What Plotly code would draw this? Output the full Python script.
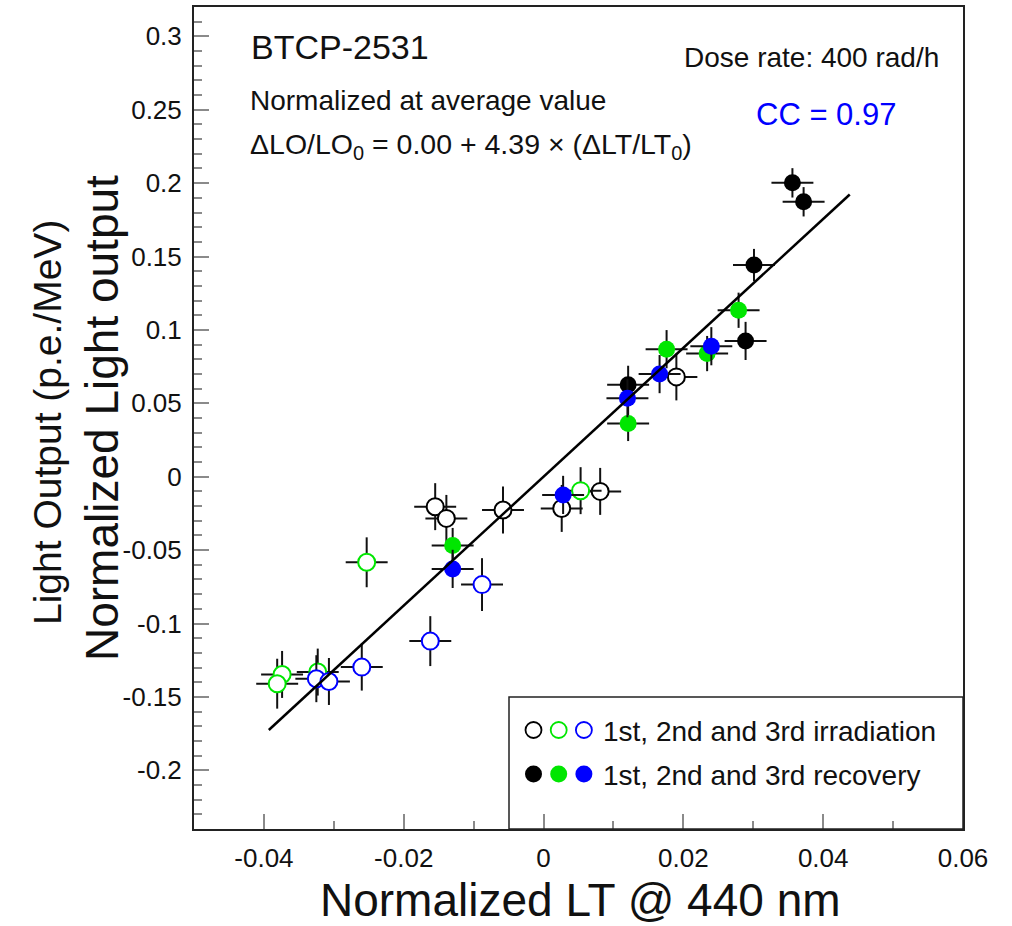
import plotly.graph_objects as go

# ---- measurements: normalized LT change vs normalized light-output change ----
# 1st, 2nd, 3rd irradiation (open markers)
irr1_x = [-0.0155, -0.0139, -0.0058, 0.0026, 0.0081, 0.0190]
irr1_y = [-0.0204, -0.0284, -0.0227, -0.0216, -0.0100, 0.0680]
irr1_ex = [0.003, 0.003, 0.003, 0.003, 0.003, 0.003]
irr1_ey = [0.016, 0.016, 0.016, 0.016, 0.016, 0.016]

irr2_x = [0.0053, -0.0253, -0.0374, -0.0381, -0.0323]
irr2_y = [-0.0095, -0.0583, -0.1347, -0.1410, -0.1331]
irr2_ex = [0.003, 0.003, 0.003, 0.003, 0.003]
irr2_ey = [0.016, 0.017, 0.016, 0.017, 0.016]

irr3_x = [-0.0088, -0.0162, -0.0260, -0.0325, -0.0307]
irr3_y = [-0.0735, -0.1120, -0.1297, -0.1376, -0.1395]
irr3_ex = [0.003, 0.003, 0.003, 0.003, 0.003]
irr3_ey = [0.018, 0.017, 0.016, 0.016, 0.016]

# 1st, 2nd, 3rd recovery (filled markers)
rec1_x = [0.0356, 0.0372, 0.0301, 0.0289, 0.0121]
rec1_y = [0.2002, 0.1873, 0.1442, 0.0925, 0.0626]
rec1_ex = [0.003, 0.003, 0.003, 0.003, 0.003]
rec1_ey = [0.010, 0.010, 0.011, 0.013, 0.013]

rec2_x = [0.0279, 0.0234, 0.0176, 0.0121, -0.0130]
rec2_y = [0.1134, 0.0839, 0.0869, 0.0363, -0.0469]
rec2_ex = [0.003, 0.003, 0.003, 0.003, 0.003]
rec2_ey = [0.012, 0.012, 0.013, 0.012, 0.012]

rec3_x = [0.0240, 0.0166, 0.0120, 0.0028, -0.0130]
rec3_y = [0.0889, 0.0699, 0.0535, -0.0124, -0.0628]
rec3_ex = [0.003, 0.003, 0.003, 0.003, 0.003]
rec3_ey = [0.013, 0.013, 0.013, 0.013, 0.013]

# linear fit: dLO/LO0 = a + b * (dLT/LT0)
fit_a = 0.00
fit_b = 4.39
fit_x = [-0.0393, 0.0438]
corr_coeff = 0.97

# axes
x_range = [-0.05, 0.06]
y_range = [-0.24, 0.32]
x_tickvals = [-0.04, -0.02, 0, 0.02, 0.04, 0.06]
x_ticktext = ["-0.04", "-0.02", "0", "0.02", "0.04", "0.06"]
y_tickvals = [-0.2, -0.15, -0.1, -0.05, 0, 0.05, 0.1, 0.15, 0.2, 0.25, 0.3]
y_ticktext = ["-0.2", "-0.15", "-0.1", "-0.05", "0", "0.05", "0.1", "0.15", "0.2", "0.25", "0.3"]

FONT = "Liberation Sans, Arial, Helvetica, sans-serif"
BLACK = "#000000"
GREEN = "#00e600"
BLUE = "#0000ff"

# plot frame in page pixels
W, H = 1012, 926
L, R, T, B = 194, 963, 7, 829


def px(xp):
    return (xp - L) / (R - L)


def py(yp):
    return (B - yp) / (B - T)


fig = go.Figure()


def add_series(xs, ys, exs, eys, color, filled):
    marker = dict(size=17, color=color, line=dict(width=0)) if filled else \
        dict(size=17, color="white", line=dict(width=2, color=color))
    fig.add_trace(go.Scatter(
        x=xs, y=ys, mode="markers", marker=marker,
        error_x=dict(type="data", array=exs, color="#111111", thickness=2, width=0),
        error_y=dict(type="data", array=eys, color="#111111", thickness=2, width=0),
        showlegend=False, hoverinfo="skip",
    ))


add_series(irr1_x, irr1_y, irr1_ex, irr1_ey, BLACK, False)
add_series(irr2_x, irr2_y, irr2_ex, irr2_ey, GREEN, False)
add_series(irr3_x, irr3_y, irr3_ex, irr3_ey, BLUE, False)
add_series(rec1_x, rec1_y, rec1_ex, rec1_ey, BLACK, True)
add_series(rec2_x, rec2_y, rec2_ex, rec2_ey, GREEN, True)
add_series(rec3_x, rec3_y, rec3_ex, rec3_ey, BLUE, True)

# fit line
fig.add_trace(go.Scatter(
    x=fit_x, y=[fit_a + fit_b * v for v in fit_x], mode="lines",
    line=dict(color=BLACK, width=2.5), showlegend=False, hoverinfo="skip",
))

# legend keys on an overlay axis measured in plot pixels
key_x = [533.5, 558.7, 583.9]
key_colors = [BLACK, GREEN, BLUE]
for row_y, filled in [(730, False), (774, True)]:
    for kx, kc in zip(key_x, key_colors):
        mk = dict(size=17, color=kc, line=dict(width=0)) if filled else \
            dict(size=16, color="white", line=dict(width=1.8, color=kc))
        fig.add_trace(go.Scatter(
            x=[kx - L], y=[B - row_y], mode="markers", marker=mk,
            xaxis="x2", yaxis="y2", showlegend=False, hoverinfo="skip",
        ))

axis_common = dict(
    showline=True, linecolor="#222222", linewidth=2, mirror=True,
    ticks="inside", tickcolor="#8a8a8a", tickwidth=1.5, ticklen=15,
    showgrid=False, zeroline=False, automargin=False, tickangle=0,
    tickfont=dict(family=FONT, size=26, color="#111111"),
)
minor_common = dict(dtick=0.01, ticks="inside", ticklen=8, tickcolor="#8a8a8a", tickwidth=1.5)

fig.update_layout(
    width=W, height=H,
    margin=dict(l=L, r=W - R, t=T, b=H - B, autoexpand=False),
    paper_bgcolor="white", plot_bgcolor="white",
    xaxis=dict(range=x_range, tickmode="array", tickvals=x_tickvals, ticktext=x_ticktext,
               minor=dict(tick0=0, **minor_common), ticklabelstandoff=5, **axis_common),
    yaxis=dict(range=y_range, tickmode="array", tickvals=y_tickvals, ticktext=y_ticktext,
               minor=dict(tick0=0, **minor_common), ticklabelstandoff=5, **axis_common),
    xaxis2=dict(range=[0, R - L], overlaying="x", visible=False, fixedrange=True),
    yaxis2=dict(range=[0, B - T], overlaying="y", visible=False, fixedrange=True),
    shapes=[dict(type="rect", xref="paper", yref="paper",
                 x0=px(509), x1=px(R), y0=py(B), y1=py(697),
                 line=dict(color="#222222", width=1.5), fillcolor="rgba(0,0,0,0)")],
)


def note(text, xp, yp, size, xanchor="left", color="#111111", angle=0):
    fig.add_annotation(
        text=text, xref="paper", yref="paper", x=px(xp), y=py(yp),
        xanchor=xanchor, yanchor="middle", showarrow=False, textangle=angle,
        font=dict(family=FONT, size=size, color=color),
    )


note("BTCP-2531", 249, 47, 34)
note("Normalized at average value", 248, 101, 28)
note(f"ΔLO/LO<sub>0</sub> = {fit_a:.2f} + {fit_b:.2f} × (ΔLT/LT<sub>0</sub>)", 248, 146, 28.5)
note("Dose rate: 400 rad/h", 941, 57, 28, xanchor="right")
note(f"CC = {corr_coeff:.2f}", 826, 114, 31, xanchor="center", color=BLUE)
note("1st, 2nd and 3rd irradiation", 601, 731, 28)
note("1st, 2nd and 3rd recovery", 601, 775, 28)

# axis titles
note("Normalized LT @ 440 nm", 580, 900, 46, xanchor="center")
note("Normalized Light output", 102, 418, 46, xanchor="center", angle=-90)
note("Light Output (p.e./MeV)", 47, 423, 39, xanchor="center", angle=-90)

fig.write_html("out.html")
